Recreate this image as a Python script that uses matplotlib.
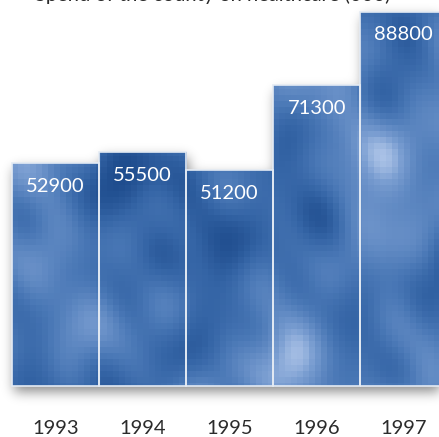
import numpy as np
import matplotlib
matplotlib.use("Agg")
import matplotlib.pyplot as plt
from matplotlib.colors import LinearSegmentedColormap
from matplotlib.patches import Rectangle

plt.rcParams["font.family"] = "Lato"

years = ["1993", "1994", "1995", "1996", "1997"]
values = [52900, 55500, 51200, 71300, 88800]
title = "Spend of the county on healthcare (000)"

W, H = 439, 437
fig = plt.figure(figsize=(W / 100 + 0.002, H / 100 + 0.002), dpi=100)
ax = fig.add_axes([0, 0, 1, 1])

# pixel <-> data mapping
bar_px = 87.0
x0 = -0.5 - 12 / bar_px
x1 = x0 + W / bar_px
yhi = 91600.0
py = 386 / yhi          # px per unit
ylo = -(H - 386) / py
ax.set_xlim(x0, x1)
ax.set_ylim(ylo, yhi)
ax.axis("off")

# soft drop shadow under the bars
xs = x0 + (np.arange(W) + 0.5) / bar_px
ys = yhi - (np.arange(H) + 0.5) / py
XX, YY = np.meshgrid(xs, ys)
shift = 6 / py
mask = np.zeros((H, W))
for i, v in enumerate(values):
    m = (np.abs(XX - i - 0.02) < 0.5) & (YY + shift >= 0) & (YY + shift <= v)
    mask[m] = 1
k = np.arange(-20, 21)
g = np.exp(-k ** 2 / (2 * 6.0 ** 2))
g /= g.sum()
blur = np.apply_along_axis(lambda r: np.convolve(r, g, mode="same"), 1, mask)
blur = np.apply_along_axis(lambda c: np.convolve(c, g, mode="same"), 0, blur)
shadow = np.zeros((H, W, 4))
shadow[..., 3] = 0.45 * blur
ax.imshow(shadow, extent=(x0, x1, ylo, yhi), origin="upper", zorder=1,
          aspect="auto", interpolation="bilinear")

# cloudy texture, shared by all bars
nx, ny = 74, 73
U, V = np.meshgrid(np.linspace(0, 1, nx), np.linspace(0, 1, ny))
waves = [(1.1, 0.4, 1.0, 0.5), (0.6, -1.5, 0.9, 1.3), (2.3, 1.9, 0.7, 2.1),
         (-2.7, 1.2, 0.6, 0.3), (3.9, -0.8, 0.5, 1.7), (1.4, 4.6, 0.45, 2.9),
         (5.8, 2.7, 0.35, 0.8), (-4.4, 5.1, 0.35, 2.4), (7.3, -3.6, 0.25, 1.1)]
tex = np.zeros_like(U)
for fx, fy, amp, ph in waves:
    tex += amp * np.sin(2 * np.pi * (fx * U + fy * V) + ph)
tex += 0.6 * np.sin(2 * np.pi * 2.6 * U + 0.4) * np.sin(2 * np.pi * 3.1 * V + 1.2)
tex = (tex - tex.min()) / (tex.max() - tex.min())
tex = tex ** 1.2
cmap = LinearSegmentedColormap.from_list(
    "sky", ["#1f4d8e", "#3565a6", "#4a78b6", "#628bc4", "#7c9fd2", "#a9c1e6"])

for i, v in enumerate(values):
    bar = Rectangle((i - 0.5, 0), 1, v, facecolor="none",
                    edgecolor="#e4ebf4", linewidth=1.2, zorder=3)
    ax.add_patch(bar)
    im = ax.imshow(tex, extent=(x0, x1, ylo, yhi), origin="upper", cmap=cmap,
                   aspect="auto", interpolation="nearest", zorder=2)
    im.set_clip_path(bar)
    ax.text(i, v - 23 / py, f"{v}", ha="center", va="center",
            color="white", fontsize=14.5, zorder=5)
    ax.text(i, -42 / py, years[i], ha="center", va="center",
            color="#2b2b2b", fontsize=14.5, zorder=5)

# title sits mostly above the visible area, as in the original crop
fig.text(35 / W, 1 - 1 / H, title, ha="left", va="baseline",
         color="#2b2b2b", fontsize=14.5)

fig.savefig("out.png", dpi=100)
